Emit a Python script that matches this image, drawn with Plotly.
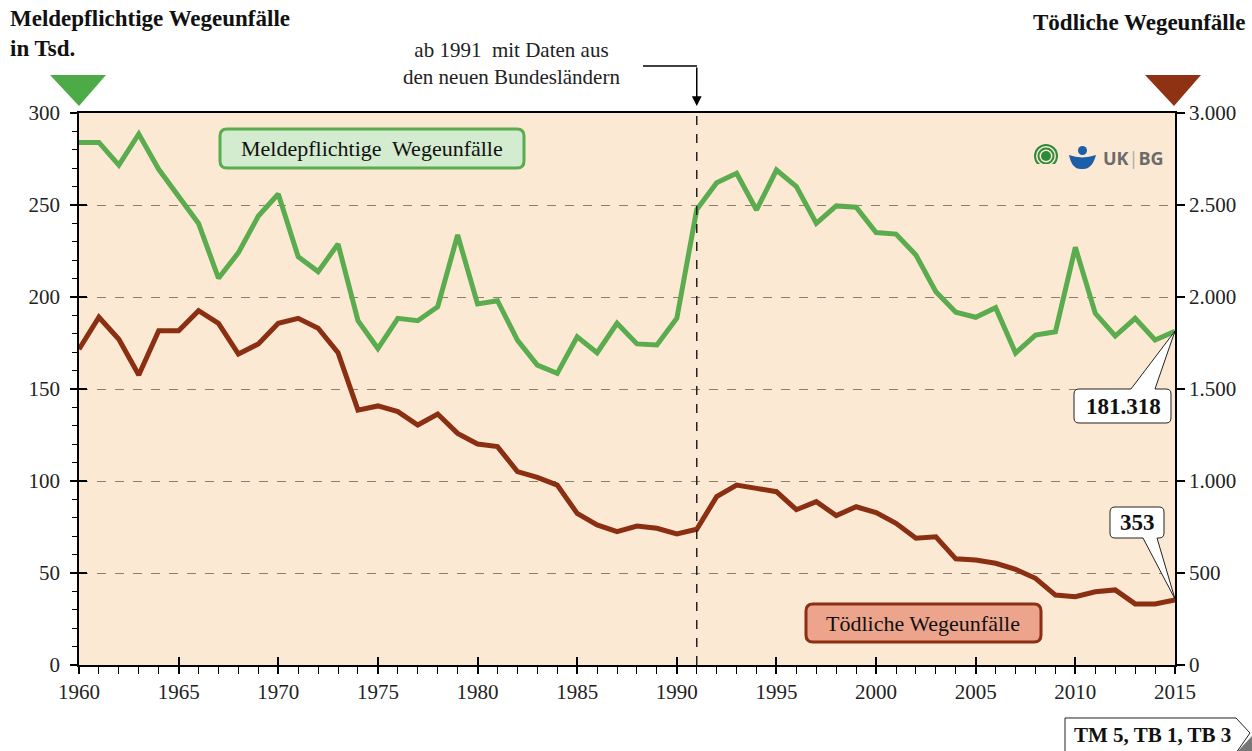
import plotly.graph_objects as go

# ---------------- data ----------------
years = list(range(1960, 2016))
meldepflichtig_tsd = [284, 284, 271.7, 288.6, 269.4, 254.9, 240, 210.2, 224.1, 244,
                      256, 221.9, 213.8, 228.8, 187.1, 172, 188.4, 187.1, 194.7, 233.7,
                      196.2, 198, 176.6, 163, 158.5, 178.4, 169.7, 185.7, 174.5, 173.9,
                      188.4, 247.5, 262.1, 267.2, 247.3, 269, 260, 240, 249.5, 248.8,
                      235, 234.2, 222.8, 202.9, 191.7, 189, 194.2, 169.5, 179.3, 181.1,
                      227, 191.1, 178.8, 188.4, 176.6, 181.318]
toedlich = [1716, 1890, 1770, 1576, 1817, 1817, 1926, 1857, 1690, 1745,
            1857, 1884, 1830, 1697, 1385, 1408, 1377, 1304, 1364, 1259,
            1201, 1187, 1051, 1020, 978, 824, 761, 725, 755, 743,
            712, 738, 915, 978, 960, 942, 844, 888, 812, 860,
            828, 770, 689, 697, 577, 571, 553, 520, 471, 380,
            371, 398, 408, 332, 332, 353]
left_ticks = [0, 50, 100, 150, 200, 250, 300]
right_ticks = [0, 500, 1000, 1500, 2000, 2500, 3000]
right_ticktext = ["0", "500", "1.000", "1.500", "2.000", "2.500", "3.000"]
label_last_green = "181.318"
label_last_red = "353"

# ---------------- style ----------------
W, H = 1252, 751
L, R, T, B = 79, 1175, 113, 665
GREEN = "#5aac4f"
RED = "#8a2f12"
BG = "#fce9d4"
SERIF = "Liberation Serif, Times New Roman, serif"


def X(px):
    return (px - L) / (R - L)


def Y(py):
    return (B - py) / (B - T)


def P(px, py):
    return f"{X(px):.5f},{Y(py):.5f}"


def rrect(x0, y0, x1, y1, r):
    return (f"M {P(x0+r, y0)} L {P(x1-r, y0)} Q {P(x1, y0)} {P(x1, y0+r)} "
            f"L {P(x1, y1-r)} Q {P(x1, y1)} {P(x1-r, y1)} L {P(x0+r, y1)} "
            f"Q {P(x0, y1)} {P(x0, y1-r)} L {P(x0, y0+r)} Q {P(x0, y0)} {P(x0+r, y0)} Z")


def callout(x0, y0, x1, y1, r, edge, b0, b1, tip):
    s = f"M {P(x0+r, y0)} "
    if edge == "top":
        s += f"L {P(b0, y0)} L {P(*tip)} L {P(b1, y0)} "
    s += f"L {P(x1-r, y0)} Q {P(x1, y0)} {P(x1, y0+r)} L {P(x1, y1-r)} Q {P(x1, y1)} {P(x1-r, y1)} "
    if edge == "bottom":
        s += f"L {P(b1, y1)} L {P(*tip)} L {P(b0, y1)} "
    s += f"L {P(x0+r, y1)} Q {P(x0, y1)} {P(x0, y1-r)} L {P(x0, y0+r)} Q {P(x0, y0)} {P(x0+r, y0)} Z"
    return s


fig = go.Figure()
fig.add_trace(go.Scatter(x=years, y=meldepflichtig_tsd, mode="lines",
                         line=dict(color=GREEN, width=5), name="Meldepflichtige Wegeunfälle",
                         yaxis="y"))
fig.add_trace(go.Scatter(x=years, y=toedlich, mode="lines",
                         line=dict(color=RED, width=5), name="Tödliche Wegeunfälle",
                         yaxis="y2"))
# helper trace so the inside-tick overlay axes are drawn
fig.add_trace(go.Scatter(x=[years[0]], y=[None], xaxis="x2", yaxis="y3",
                         showlegend=False, hoverinfo="skip"))

tickfont = dict(family=SERIF, size=21, color="#222")
fig.update_layout(
    width=W, height=H,
    margin=dict(l=L, r=W - R, t=T, b=H - B),
    paper_bgcolor="white", plot_bgcolor=BG,
    showlegend=False,
    xaxis=dict(range=[1960, 2015], tickmode="linear", tick0=1960, dtick=5,
               ticks="outside", ticklen=7, tickwidth=1.5, tickcolor="black",
               minor=dict(dtick=1, ticks="outside", ticklen=7, tickwidth=1, tickcolor="black"),
               showline=True, linecolor="black", linewidth=1.5, mirror=True,
               showgrid=False, zeroline=False, tickfont=tickfont),
    xaxis2=dict(range=[1960, 2015], overlaying="x", anchor="y3", tickmode="linear",
                tick0=1960, dtick=5, ticks="inside", ticklen=8, tickwidth=1.5,
                tickcolor="black", showticklabels=False, showgrid=False,
                zeroline=False, showline=False, side="bottom"),
    yaxis=dict(range=[0, 300], tickvals=left_ticks, ticks="outside", ticklen=7,
               tickwidth=1.5, tickcolor="black", ticklabelstandoff=6,
               minor=dict(dtick=10, ticks="outside", ticklen=5, tickwidth=1, tickcolor="black"),
               showline=True, linecolor="black", linewidth=1.5,
               showgrid=True, gridcolor="#8a8070", griddash="dash", gridwidth=1,
               zeroline=False, tickfont=tickfont),
    yaxis2=dict(range=[0, 3000], tickvals=right_ticks, ticktext=right_ticktext,
                overlaying="y", side="right", ticks="outside", ticklen=8,
                tickwidth=1.5, tickcolor="black", showline=True, linecolor="black",
                linewidth=1.5, showgrid=False, zeroline=False, tickfont=tickfont),
    yaxis3=dict(range=[0, 300], overlaying="y", side="left", anchor="x2",
                tickvals=left_ticks, ticks="inside", ticklen=8, tickwidth=1.5,
                tickcolor="black", showticklabels=False, showgrid=False,
                zeroline=False, showline=False),
)

shapes = []
shapes.append(dict(type="line", xref="x", yref="paper", x0=1991, x1=1991, y0=0, y1=1,
                   line=dict(color="#222", width=1.5, dash="dash")))
shapes.append(dict(type="path", xref="paper", yref="paper",
                   path=f"M {P(643, 66)} L {P(697, 66)}",
                   line=dict(color="black", width=1.5)))
shapes.append(dict(type="path", xref="paper", yref="paper",
                   path=f"M {P(50, 75)} L {P(106, 75)} L {P(79, 106)} Z",
                   fillcolor="#4caa47", line=dict(width=0)))
shapes.append(dict(type="path", xref="paper", yref="paper",
                   path=f"M {P(1145, 75)} L {P(1201, 75)} L {P(1174, 106)} Z",
                   fillcolor="#8e3213", line=dict(width=0)))
shapes.append(dict(type="path", xref="paper", yref="paper",
                   path=rrect(220, 129, 524, 168, 7),
                   fillcolor="#d3ebcf", line=dict(color=GREEN, width=3)))
shapes.append(dict(type="path", xref="paper", yref="paper",
                   path=rrect(806, 604, 1041, 642, 7),
                   fillcolor="#eca48d", line=dict(color=RED, width=3)))
shapes.append(dict(type="path", xref="paper", yref="paper",
                   path=callout(1074, 389, 1171, 423, 5, "top", 1131, 1155, (1175, 331)),
                   fillcolor="white", line=dict(color="#222", width=1)))
shapes.append(dict(type="path", xref="paper", yref="paper",
                   path=callout(1110, 507, 1164, 538, 5, "bottom", 1143, 1157, (1175, 599)),
                   fillcolor="white", line=dict(color="#222", width=1)))
shapes.append(dict(type="path", xref="paper", yref="paper",
                   path=f"M {P(1238, 751)} L {P(1252, 736)} L {P(1252, 751)} Z",
                   fillcolor="#777", line=dict(width=0)))
shapes.append(dict(type="path", xref="paper", yref="paper",
                   path=f"M {P(1065, 753)} L {P(1065, 718)} L {P(1236, 718)} L {P(1250, 733)} L {P(1236, 753)}",
                   fillcolor="white", line=dict(color="#222", width=1)))
# logo
cx, cy = 1046, 156
for rad, col in [(12, "#2e8b3a"), (10, BG), (8.5, "#2e8b3a"), (6.5, BG), (5, "#2e8b3a")]:
    shapes.append(dict(type="circle", xref="paper", yref="paper",
                       x0=X(cx - rad), x1=X(cx + rad), y0=Y(cy + rad), y1=Y(cy - rad),
                       fillcolor=col, line=dict(width=0)))
shapes.append(dict(type="rect", xref="paper", yref="paper",
                   x0=X(1033), x1=X(1059), y0=Y(170), y1=Y(164),
                   fillcolor=BG, line=dict(width=0)))
shapes.append(dict(type="circle", xref="paper", yref="paper",
                   x0=X(1078), x1=X(1087), y0=Y(155), y1=Y(146),
                   fillcolor="#1c5ea8", line=dict(width=0)))
shapes.append(dict(type="path", xref="paper", yref="paper",
                   path=f"M {P(1069, 155)} Q {P(1082, 160)} {P(1096, 155)} Q {P(1092, 170)} {P(1082, 169)} Q {P(1072, 170)} {P(1069, 155)} Z",
                   fillcolor="#1c5ea8", line=dict(width=0)))
fig.update_layout(shapes=shapes)


def txt(px, py, text, size, xanchor="center", yanchor="middle", family=SERIF,
        color="#111", align="center"):
    return dict(xref="paper", yref="paper", x=X(px), y=Y(py), xanchor=xanchor,
                yanchor=yanchor, showarrow=False, text=text, align=align,
                font=dict(family=family, size=size, color=color))


ann = [
    txt(8, 4, "<b>Meldepflichtige Wegeunfälle<br>in Tsd.</b>", 23, "left", "top", align="left"),
    txt(1247, 8, "<b>Tödliche Wegeunfälle</b>", 23, "right", "top"),
    txt(511, 64, "ab 1991  mit Daten aus<br>den neuen Bundesländern", 21, color="#222"),
    dict(xref="x", yref="paper", x=1991, y=Y(106), ax=0, ay=-40, text="",
         showarrow=True, arrowhead=2, arrowsize=1.3, arrowwidth=1.5, arrowcolor="black"),
    txt(372, 149, "Meldepflichtige  Wegeunfälle", 22),
    txt(923, 623, "Tödliche Wegeunfälle", 22),
    txt(1123, 406, f"<b>{label_last_green}</b>", 23),
    txt(1137, 522, f"<b>{label_last_red}</b>", 23),
    txt(1152, 735, "<b>TM 5, TB 1, TB 3</b>", 21),
    txt(1101, 158, "<b>UK</b><span style='color:#aaa'>|</span><b>BG</b>", 18, "left",
        family="Open Sans, DejaVu Sans, sans-serif", color="#6b6b6b"),
]
fig.update_layout(annotations=ann)

fig.write_html("out.html", config={"displayModeBar": False},
               post_script="document.body.style.margin='0';")
